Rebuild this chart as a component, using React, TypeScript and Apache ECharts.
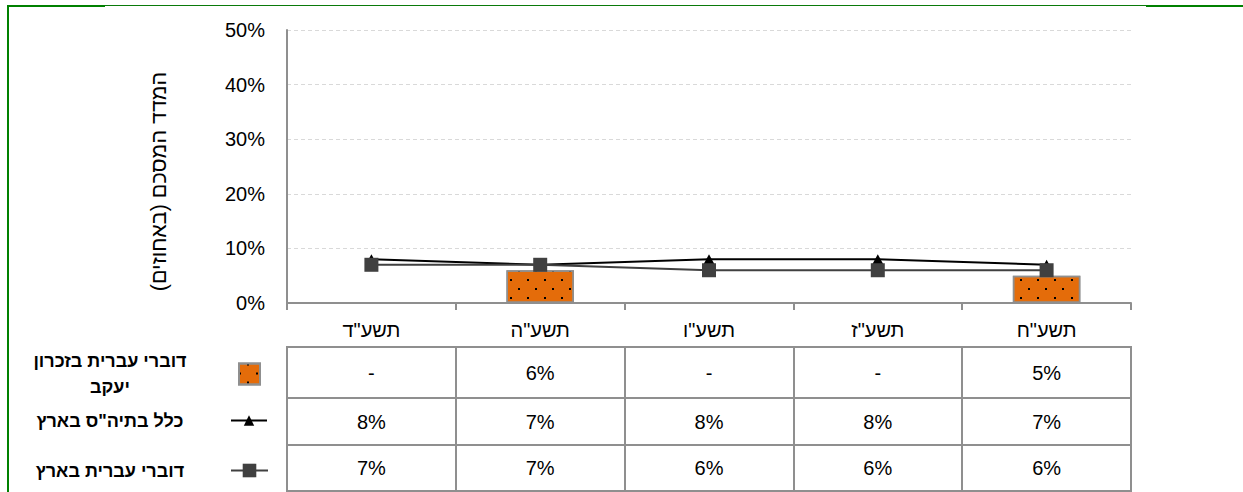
import React, { useEffect, useRef } from "react";
import * as echarts from "echarts";

const categories = ['תשע"ד', 'תשע"ה', 'תשע"ו', 'תשע"ז', 'תשע"ח'];
const zikhronValues: (number | null)[] = [null, 6, null, null, 5];
const allSchoolsValues = [8, 7, 8, 8, 7];
const hebrewValues = [7, 7, 6, 6, 6];
const yTicks = [0, 10, 20, 30, 40, 50];

const zikhronName = "דוברי עברית בזכרון יעקב";
const allSchoolsName = 'כלל בתיה"ס בארץ';
const hebrewName = "דוברי עברית בארץ";
const yTitle = "\u200Fהמדד המסכם (באחוזים)\u200F";

const FONT = 'Arial, "Liberation Sans", sans-serif';
const GRAY = "#8f8f8f";

const fmt = (v: number | null) => (v === null ? "-" : `${v}%`);

export default function App() {
  const ref = useRef<HTMLDivElement>(null);
  useEffect(() => {
    if (!ref.current) return;
    const chart = echarts.init(ref.current, null, { renderer: "svg" });

    const plotLeft = 287;
    const plotWidth = 844;
    const rows = [
      { top: 347, height: 51, labels: zikhronValues.map(fmt) },
      { top: 398, height: 47, labels: allSchoolsValues.map(fmt) },
      { top: 445, height: 46, labels: hebrewValues.map(fmt) },
    ];

    const grids: any[] = [
      { left: plotLeft, top: 30, width: plotWidth, height: 273 },
      ...rows.map((r) => ({
        left: plotLeft,
        top: r.top,
        width: plotWidth,
        height: r.height,
        show: true,
        borderColor: GRAY,
        borderWidth: 2,
        backgroundColor: "transparent",
      })),
    ];

    const xAxes: any[] = [
      {
        gridIndex: 0,
        type: "category",
        data: categories,
        axisLine: { lineStyle: { color: GRAY, width: 2 } },
        axisTick: { show: true, length: 7, interval: 0, lineStyle: { color: GRAY, width: 2 } },
        axisLabel: { fontSize: 20, color: "#000", margin: 17, fontFamily: FONT, interval: 0 },
      },
      ...rows.map((r, i) => ({
        gridIndex: i + 1,
        type: "category",
        data: r.labels,
        position: "bottom",
        axisLine: { show: false },
        axisTick: { show: false },
        splitLine: { show: true, interval: 0, lineStyle: { color: GRAY, width: 2 } },
        axisLabel: {
          interval: 0,
          fontSize: 20,
          color: "#000",
          fontFamily: FONT,
          verticalAlign: "middle",
          margin: -r.height / 2,
        },
      })),
    ];

    const yAxes: any[] = [
      {
        gridIndex: 0,
        type: "value",
        min: yTicks[0],
        max: yTicks[yTicks.length - 1],
        interval: yTicks[1] - yTicks[0],
        name: yTitle,
        nameLocation: "middle",
        nameRotate: 90,
        nameGap: 117,
        nameTextStyle: { fontSize: 21.5, color: "#000", fontFamily: FONT, padding: [0, 30, 0, 0] },
        axisLine: { show: true, lineStyle: { color: GRAY, width: 2 } },
        axisTick: { show: false },
        axisLabel: { formatter: (v: number) => `${v}%`, fontSize: 20, color: "#000", margin: 22, fontFamily: FONT },
        splitLine: { lineStyle: { color: "#d9d9d9", type: [4, 3], width: 1 } },
      },
      ...rows.map((_, i) => ({ gridIndex: i + 1, type: "value", show: false })),
    ];

    const legendText = (w: number) => ({
      rich: {
        t: { width: w, align: "center", fontSize: 18, fontWeight: "bold", lineHeight: 26, color: "#000", fontFamily: FONT },
      },
    });

    chart.setOption({
      animation: false,
      textStyle: { fontFamily: FONT },
      grid: grids,
      xAxis: xAxes,
      yAxis: yAxes,
      legend: [
        {
          data: [zikhronName],
          left: -14,
          top: 352,
          padding: 0,
          align: "right",
          selectedMode: false,
          icon: "rect",
          itemWidth: 21,
          itemHeight: 21,
          formatter: () => "{t|דוברי עברית בזכרון}\n{t|יעקב}",
          textStyle: legendText(248),
        },
        {
          data: [allSchoolsName],
          left: -6,
          top: 411.5,
          padding: 0,
          align: "right",
          selectedMode: false,
          itemWidth: 36,
          itemHeight: 13,
          formatter: (n: string) => `{t|${n}}`,
          textStyle: legendText(232),
        },
        {
          data: [hebrewName],
          left: -6,
          top: 461.5,
          padding: 0,
          align: "right",
          selectedMode: false,
          itemWidth: 37,
          itemHeight: 17,
          formatter: (n: string) => `{t|${n}}`,
          textStyle: legendText(232),
        },
      ],
      series: [
        {
          name: zikhronName,
          type: "bar",
          xAxisIndex: 0,
          yAxisIndex: 0,
          data: zikhronValues,
          barWidth: "40%",
          itemStyle: {
            color: "#E46C0A",
            borderColor: GRAY,
            borderWidth: 1.5,
            decal: {
              symbol: "rect",
              symbolSize: 1,
              color: "#000",
              dashArrayX: [[2, 15], [0, 8, 2, 7]],
              dashArrayY: [2, 7],
              rotation: 0,
            },
          },
        },
        {
          name: allSchoolsName,
          type: "line",
          xAxisIndex: 0,
          yAxisIndex: 0,
          data: allSchoolsValues,
          symbol: "triangle",
          symbolSize: [11, 10],
          color: "#000",
          itemStyle: { color: "#000" },
          lineStyle: { color: "#000", width: 2 },
          z: 3,
        },
        {
          name: hebrewName,
          type: "line",
          xAxisIndex: 0,
          yAxisIndex: 0,
          data: hebrewValues,
          symbol: "rect",
          symbolSize: 14,
          color: "#404040",
          itemStyle: { color: "#404040" },
          lineStyle: { color: "#404040", width: 2 },
          z: 4,
        },
      ],
      graphic: [
        { type: "line", shape: { x1: 7, y1: 5.5, x2: 1243, y2: 5.5 }, style: { stroke: "#0a7a0a", lineWidth: 1 } },
        { type: "line", shape: { x1: 7, y1: 6, x2: 105, y2: 6 }, style: { stroke: "#008000", lineWidth: 2 } },
        { type: "line", shape: { x1: 1146, y1: 6, x2: 1243, y2: 6 }, style: { stroke: "#008000", lineWidth: 2 } },
        { type: "line", shape: { x1: 8, y1: 5, x2: 8, y2: 492 }, style: { stroke: "#008000", lineWidth: 2 } },
      ],
    });

    return () => chart.dispose();
  }, []);

  return (
    <div
      ref={ref}
      style={{ position: "fixed", left: 0, top: 0, width: 1243, height: 492, background: "#fff" }}
    />
  );
}
